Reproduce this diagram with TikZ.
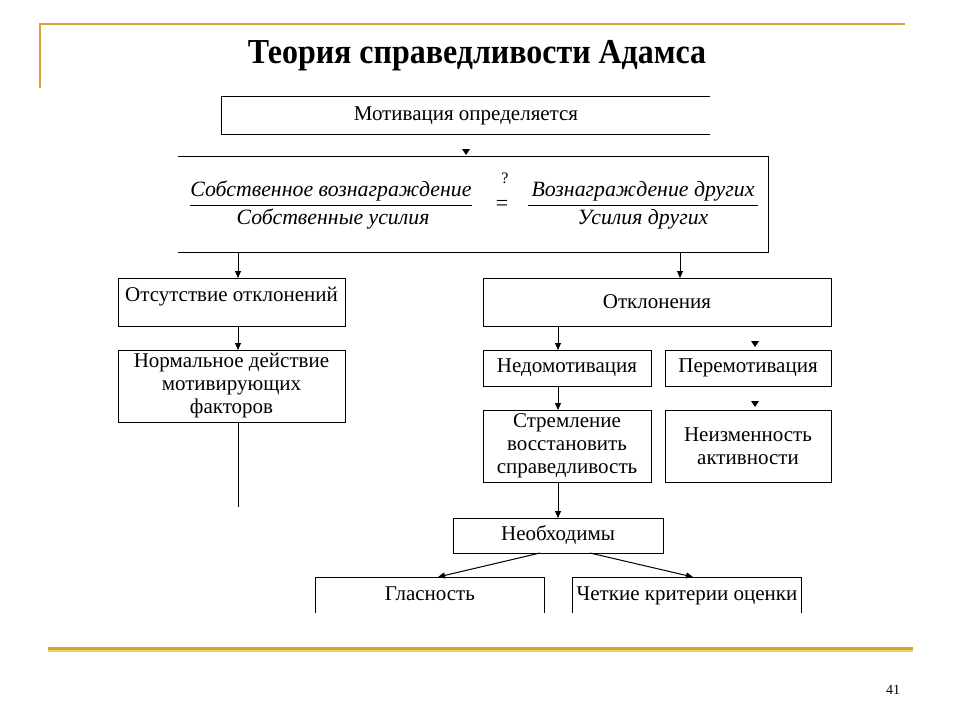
\documentclass[tikz,border=0pt]{standalone}
\usepackage{fontspec}
\setmainfont{Liberation Serif}
\usetikzlibrary{arrows.meta}
\definecolor{gold}{HTML}{D4A434}
\definecolor{goldlight}{HTML}{F0D060}
\begin{document}
\begin{tikzpicture}[x=1pt,y=-1pt,
  box/.style={draw, line width=1pt, inner sep=0pt, align=center, font=\fontsize{21}{23}\selectfont},
  openbox/.style={inner sep=0pt, align=center, font=\fontsize{21}{23}\selectfont},
  lbl/.style={inner sep=0pt, font=\fontsize{21.8}{24}\selectfont\itshape},
  conn/.style={line width=1pt, -{Triangle[length=7pt,width=6pt]}},
  plain/.style={line width=1pt}]
\useasboundingbox (0,0) rectangle (960,720);
% decorative gold lines
\draw[gold, line width=2.5pt] (40,88) -- (40,24) -- (905,24);
\draw[gold, line width=3pt] (48,648.5) -- (913,648.5);
\draw[goldlight, line width=1.2pt] (48,651) -- (913,651);
% title
\node[font=\fontsize{34}{40}\selectfont\bfseries] (title) at (477,56) {\scalebox{0.94}[1.03]{Теория справедливости Адамса}};
\node[font=\fontsize{14}{16}\selectfont] (pg) at (893,690) {41};
% box 1 (open right side)
\node[openbox, minimum width=488pt, minimum height=37pt] (b1) at (466,115.5) {Мотивация определяется};
\draw[plain] (b1.north east) -- (b1.north west) -- (b1.south west) -- (b1.south east);
% lone arrowhead
\fill (462,149) -- (470,149) -- (466,155) -- cycle;
% box 2 (open left side)
\node[inner sep=0pt, minimum width=590pt, minimum height=95pt] (b2) at (473,204.5) {};
\draw[plain] (b2.north west) -- (b2.north east) -- (b2.south east) -- (b2.south west);
\node[lbl] (n1) at (331,191) {Собственное вознаграждение};
\node[lbl] (d1) at (333,219) {Собственные усилия};
\node[lbl] (n2) at (643,191) {Вознаграждение других};
\node[lbl] (d2) at (643,219) {Усилия других};
\draw[line width=1pt] (190,205) -- (472,205);
\draw[line width=1pt] (528,205) -- (758,205);
\node[font=\fontsize{16}{18}\selectfont] (q) at (505,178) {?};
\node[font=\fontsize{22}{24}\selectfont] (eq) at (502,205) {=};
% left branch
\node[box, minimum width=227pt, text height=23pt, text depth=25pt, anchor=north] (ot) at (231.5,278) {Отсутствие отклонений};
\node[box, minimum width=227pt, minimum height=72pt] (norm) at (231.5,386) {Нормальное действие\\мотивирующих\\факторов};
\coordinate (b2l) at (238,252);
\coordinate (otin) at (238,278);
\coordinate (otout) at (238,326);
\coordinate (nin) at (238,350);
\coordinate (nout) at (238,422);
\coordinate (nend) at (238,507);
\draw[conn] (b2l) -- (otin);
\draw[conn] (otout) -- (nin);
\draw[plain] (nout) -- (nend);
% right branch
\node[box, minimum width=348pt, minimum height=48pt] (otk) at (657,302) {Отклонения};
\node[box, minimum width=168pt, minimum height=36pt] (nedo) at (567,368) {Недомотивация};
\node[box, minimum width=166pt, minimum height=36pt] (pere) at (748,368) {Перемотивация};
\node[box, minimum width=168pt, minimum height=72pt] (strem) at (567,446) {Стремление\\восстановить\\справедливость};
\node[box, minimum width=166pt, minimum height=72pt] (neizm) at (748,446) {Неизменность\\активности};
\node[box, minimum width=210pt, minimum height=35pt] (neob) at (558,535.5) {Необходимы};
\coordinate (b2r) at (680,252);
\coordinate (otkin) at (680,278);
\draw[conn] (b2r) -- (otkin);
\coordinate (otkout) at (558,326);
\coordinate (nedoin) at (558,350);
\coordinate (nedoout) at (558,386);
\coordinate (stremin) at (558,410);
\coordinate (stremout) at (558,482);
\coordinate (neobin) at (558,518);
\draw[conn] (otkout) -- (nedoin);
\draw[conn] (nedoout) -- (stremin);
\draw[conn] (stremout) -- (neobin);
\fill (751,341) -- (759,341) -- (755,347) -- cycle;
\fill (751,401) -- (759,401) -- (755,407) -- cycle;
% bottom boxes (open bottom)
\node[openbox, minimum width=228pt, text height=23pt, text depth=13pt, anchor=north] (glas) at (430,577) {Гласность};
\draw[plain] (glas.south west) -- (glas.north west) -- (glas.north east) -- (glas.south east);
\node[openbox, minimum width=228pt, text height=23pt, text depth=13pt, anchor=north] (crit) at (687,577) {Четкие критерии оценки};
\draw[plain] (crit.south west) -- (crit.north west) -- (crit.north east) -- (crit.south east);
\coordinate (neob1) at (540,553);
\coordinate (neob2) at (590,553);
\coordinate (glasin) at (438,577);
\coordinate (critin) at (693,577);
\draw[conn] (neob1) -- (glasin);
\draw[conn] (neob2) -- (critin);
\end{tikzpicture}
\end{document}
